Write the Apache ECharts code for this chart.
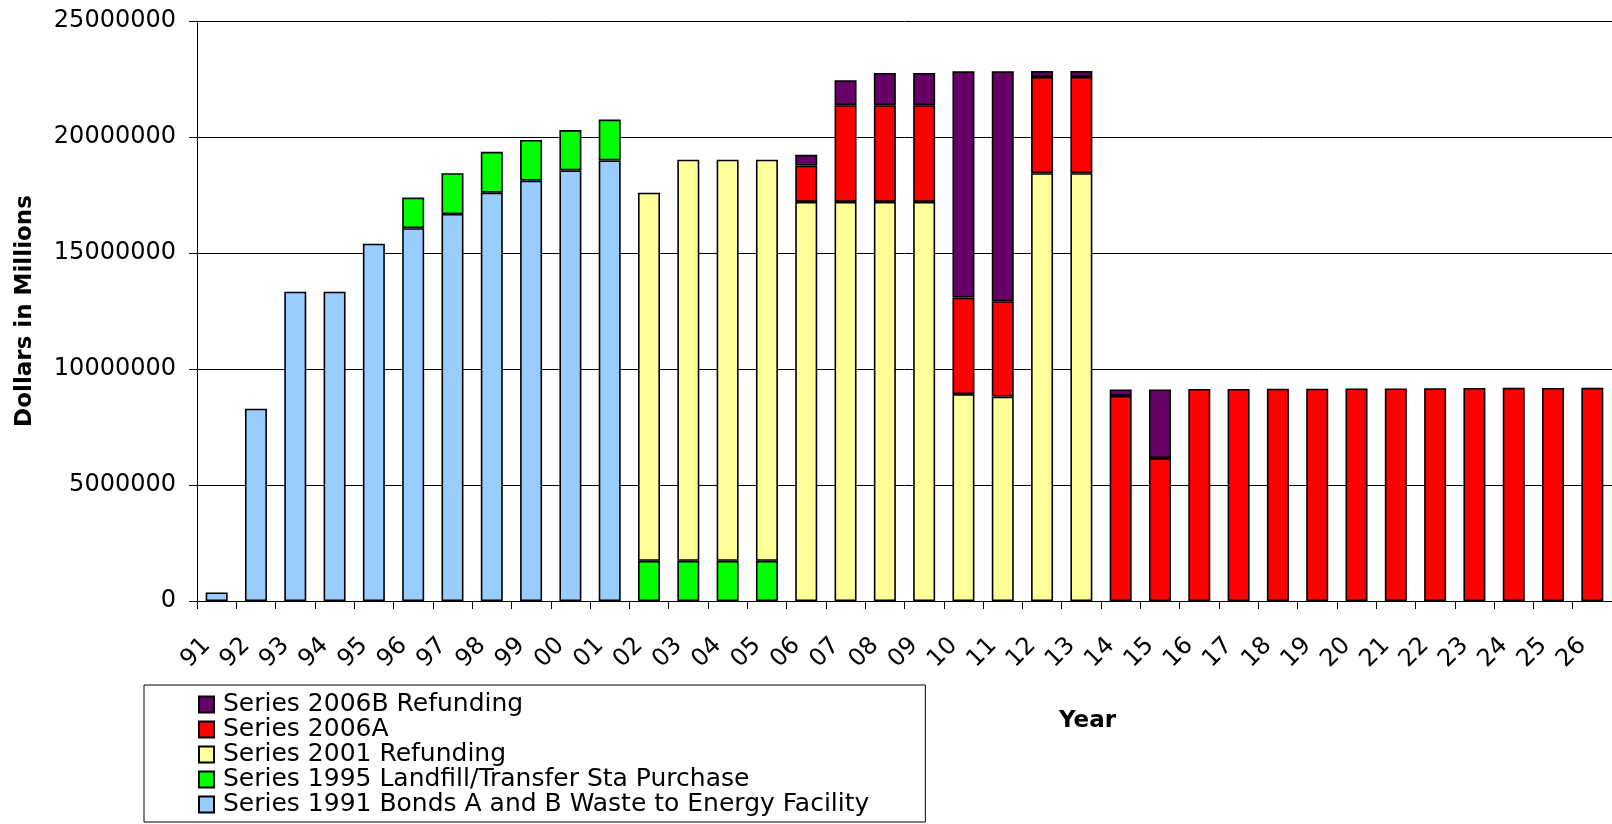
<!DOCTYPE html>
<html>
<head>
<meta charset="utf-8">
<script src="https://cdn.jsdelivr.net/npm/echarts@6/dist/echarts.min.js"></script>
<style>html,body{margin:0;padding:0;background:#fff}#c{width:1612px;height:824px}</style>
</head>
<body>
<div id="c"></div>
<script>
const categories = ['91','92','93','94','95','96','97','98','99','00','01','02','03','04','05','06','07','08','09','10','11','12','13','14','15','16','17','18','19','20','21','22','23','24','25','26'];
const yTicks = [0, 5000000, 10000000, 15000000, 20000000, 25000000];
const s1991 = [370000, 8290000, 13330000, 13330000, 15400000, 16070000, 16680000, 17600000, 18120000, 18560000, 18990000, null, null, null, null, null, null, null, null, null, null, null, null, null, null, null, null, null, null, null, null, null, null, null, null, null];
const s1995 = [null, null, null, null, null, 1320000, 1760000, 1760000, 1750000, 1740000, 1760000, 1730000, 1730000, 1730000, 1730000, null, null, null, null, null, null, null, null, null, null, null, null, null, null, null, null, null, null, null, null, null];
const s2001 = [null, null, null, null, null, null, null, null, null, null, null, 15870000, 17290000, 17290000, 17290000, 17200000, 17200000, 17200000, 17200000, 8920000, 8810000, 18440000, 18440000, null, null, null, null, null, null, null, null, null, null, null, null, null];
const s2006A = [null, null, null, null, null, null, null, null, null, null, null, null, null, null, null, 1570000, 4170000, 4170000, 4170000, 4160000, 4110000, 4150000, 4150000, 8840000, 6160000, 9140000, 9140000, 9150000, 9150000, 9160000, 9160000, 9170000, 9180000, 9190000, 9180000, 9190000];
const s2006B = [null, null, null, null, null, null, null, null, null, null, null, null, null, null, null, 460000, 1080000, 1390000, 1390000, 9750000, 9910000, 250000, 250000, 280000, 2960000, null, null, null, null, null, null, null, null, null, null, null];
const seriesNames = ['Series 1991 Bonds A and B Waste to Energy Facility', 'Series 1995 Landfill/Transfer Sta Purchase', 'Series 2001 Refunding', 'Series 2006A', 'Series 2006B Refunding'];
const seriesColors = ['#99CCFF', '#00FF00', '#FFFF99', '#FF0000', '#660066'];
const seriesData = [s1991, s1995, s2001, s2006A, s2006B];

const FONT = 'DejaVu Sans';
const chart = echarts.init(document.getElementById('c'), null, {renderer: 'canvas'});
const option = {
  animation: false,
  backgroundColor: '#fff',
  textStyle: {fontFamily: FONT, color: '#000'},
  grid: {left: 197, top: 21, right: -4, bottom: 223, containLabel: false},
  title: {
    text: 'Year', left: 1059, top: 710, padding: 0,
    textStyle: {fontFamily: FONT, fontSize: 23, fontWeight: 'bold', color: '#000'}
  },
  legend: {
    orient: 'vertical', left: 144, top: 685, height: 139,
    data: seriesNames.slice().reverse(),
    icon: 'rect',
    itemWidth: 15, itemHeight: 16, itemGap: 0,
    padding: [7, 56, 5, 54],
    borderColor: '#000', borderWidth: 1,
    textStyle: {fontFamily: FONT, fontSize: 25, color: '#000', lineHeight: 25, padding: [0, 0, 0, 4]},
    selectedMode: false
  },
  xAxis: {
    type: 'category', data: categories, boundaryGap: true,
    axisLine: {show: true, lineStyle: {color: '#000', width: 1}},
    axisTick: {show: true, alignWithLabel: false, length: 8, lineStyle: {color: '#000'}},
    axisLabel: {rotate: 45, margin: 31, padding: [0, 14, 0, 0], fontFamily: FONT, fontSize: 24, color: '#000', interval: 0},
    splitLine: {show: false}
  },
  yAxis: {
    type: 'value', min: yTicks[0], max: yTicks[yTicks.length - 1], interval: yTicks[1] - yTicks[0],
    name: 'Dollars in Millions', nameLocation: 'middle', nameGap: 160,
    nameTextStyle: {fontFamily: FONT, fontSize: 23, fontWeight: 'bold', color: '#000'},
    axisLine: {show: true, lineStyle: {color: '#000', width: 1}},
    axisTick: {show: true, length: 8, lineStyle: {color: '#000'}},
    axisLabel: {margin: 21, fontFamily: FONT, fontSize: 24, color: '#000', formatter: v => String(v)},
    splitLine: {show: true, lineStyle: {color: '#000', width: 1}}
  },
  series: seriesData.map((d, i) => ({
    name: seriesNames[i], type: 'bar', stack: 'total', data: d,
    barWidth: 22,
    itemStyle: {color: seriesColors[i], borderColor: '#000', borderWidth: 1.6}
  }))
};
chart.setOption(option);
</script>
</body>
</html>
